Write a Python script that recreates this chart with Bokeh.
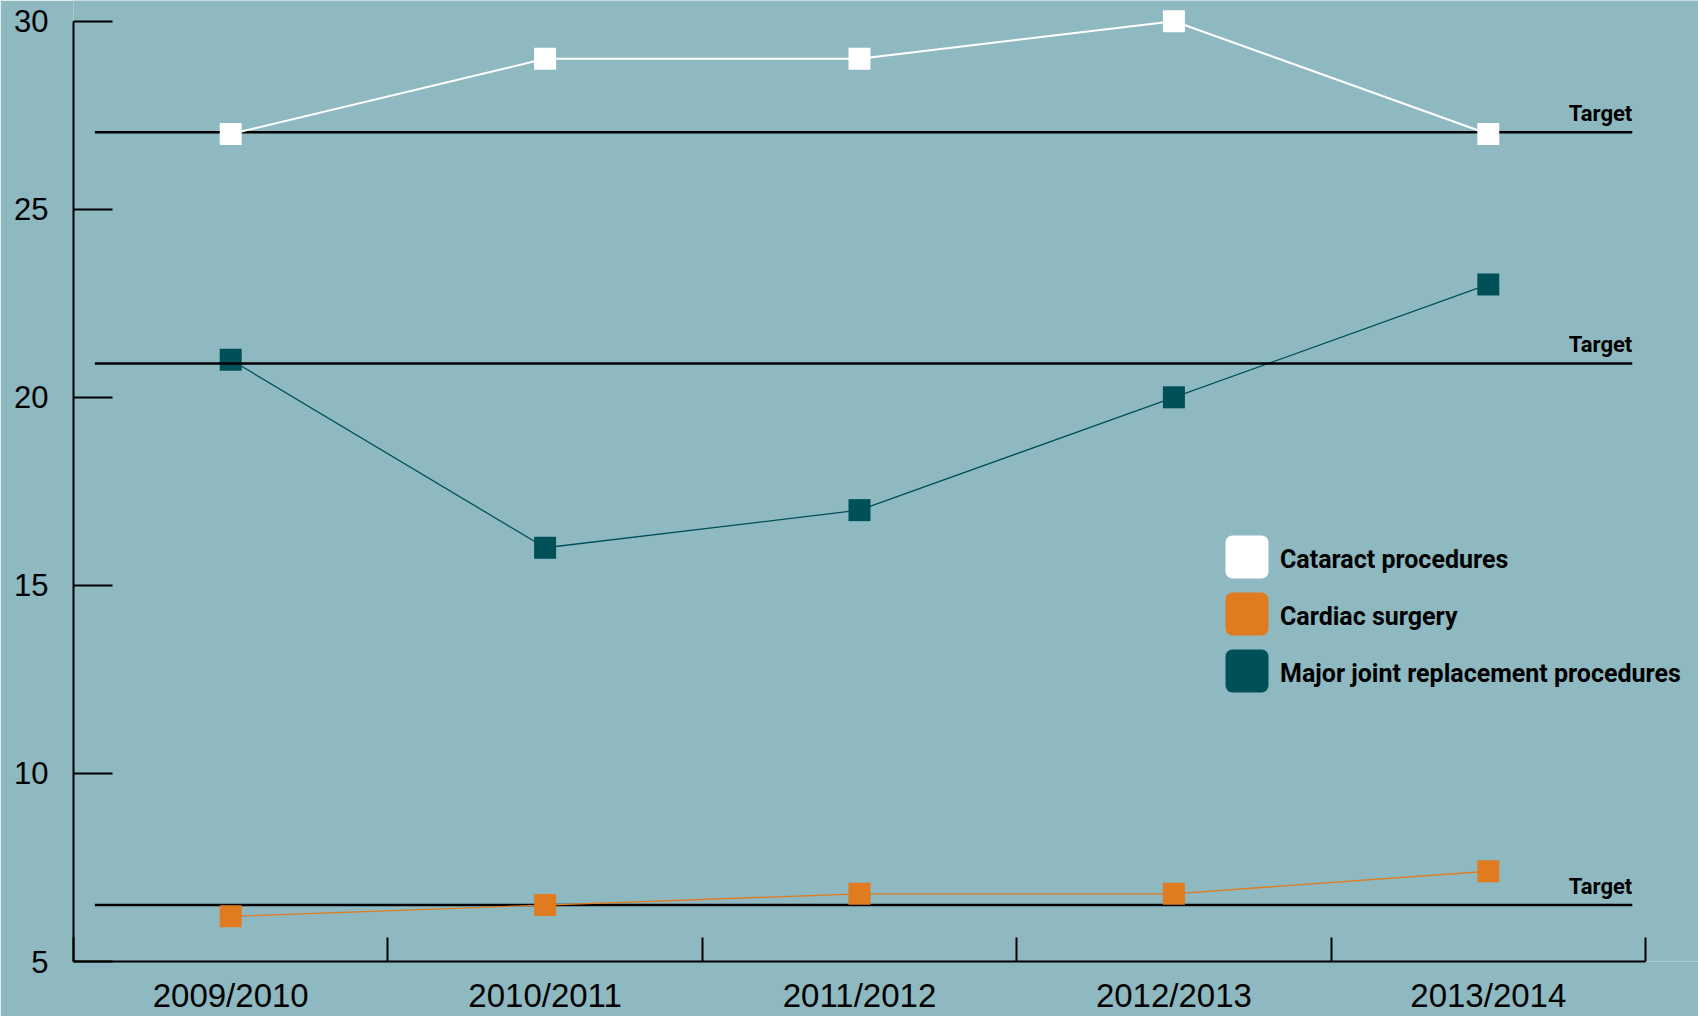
from bokeh.plotting import figure
from bokeh.models import Range1d, FixedTicker, Legend, LegendItem, BoxAnnotation
from bokeh.core.properties import value
from bokeh.embed import file_html
from bokeh.resources import INLINE

# Financial years on the horizontal axis
years = ["2009/2010", "2010/2011", "2011/2012", "2012/2013", "2013/2014"]

# Series values
cataract = [27, 29, 29, 30, 27]
cardiac = [6.2, 6.5, 6.8, 6.8, 7.4]
joint = [21, 16, 17, 20, 23]

# Target levels per procedure
target_cataract = 27.05
target_joint = 20.9
target_cardiac = 6.5

y_ticks = [5, 10, 15, 20, 25, 30]

BG = "#8EB9C0"
WHITE = "#FFFFFF"
ORANGE = "#E07B20"
TEAL = "#00505A"
LABEL_FONT = "Liberation Sans"
BOLD_FONT = "Roboto"

n = len(years)
xs = [i + 0.5 for i in range(n)]

# The plotting area runs to the right edge so the legend is not clipped;
# the x axis itself stops at the last year boundary.
W, H = 1698, 1016
LEFT = 73
AXIS_W = 1572
x_end = n * (W - LEFT) / AXIS_W

p = figure(
    width=W, height=H,
    x_range=Range1d(0, x_end), y_range=Range1d(5, 30.55),
    output_backend="svg", toolbar_location=None,
    min_border_left=LEFT, min_border_right=0, min_border_top=0, min_border_bottom=52,
    background_fill_color=BG, border_fill_color=BG, outline_line_color=None,
)
p.grid.visible = False

# Vertical axis: ticks pointing inward, line ends at the top tick
ya = p.yaxis[0]
ya.ticker = FixedTicker(ticks=y_ticks, minor_ticks=[])
ya.bounds = (5, 30)
ya.axis_line_color = "black"
ya.axis_line_width = 2
ya.major_tick_in = 39
ya.major_tick_out = 0
ya.major_tick_line_width = 2
ya.major_tick_line_color = "black"
ya.minor_tick_line_color = None
ya.major_label_standoff = 25
ya.major_label_text_font = LABEL_FONT
ya.major_label_text_font_size = "31px"
ya.major_label_text_color = "black"

# Horizontal axis: labels at year centres, tick marks at year boundaries
xa = p.xaxis[0]
xa.ticker = FixedTicker(ticks=xs, minor_ticks=list(range(n + 1)))
xa.major_label_overrides = {x: y for x, y in zip(xs, years)}
xa.bounds = (0, n)
xa.axis_line_color = "black"
xa.axis_line_width = 2
xa.major_tick_in = 0
xa.major_tick_out = 0
xa.minor_tick_in = 24
xa.minor_tick_out = 0
xa.minor_tick_line_width = 2
xa.minor_tick_line_color = "black"
xa.major_label_standoff = 15
xa.major_label_text_font = LABEL_FONT
xa.major_label_text_font_size = "33px"
xa.major_label_text_color = "black"

# Major joint replacement series (drawn beneath the target lines)
p.line(xs, joint, line_color=TEAL, line_width=1.3)
p.scatter(xs, joint, marker="square", size=22, fill_color=TEAL, line_color=None)

# Target lines with their labels
targets = [target_cataract, target_joint, target_cardiac]
tx0, tx1 = 0.068, 4.958
p.segment(x0=[tx0] * 3, x1=[tx1] * 3, y0=targets, y1=targets,
          line_color="black", line_width=2.5)
p.text(x=[tx1] * 3, y=targets, text=["Target"] * 3,
       text_align="right", text_baseline="alphabetic", y_offset=-19,
       text_font=value(BOLD_FONT), text_font_style="bold",
       text_font_size="22px", text_color="black")

# Cardiac surgery series
p.line(xs, cardiac, line_color=ORANGE, line_width=1.3)
p.scatter(xs, cardiac, marker="square", size=22, fill_color=ORANGE, line_color=None)

# Cataract series
p.line(xs, cataract, line_color=WHITE, line_width=2)
p.scatter(xs, cataract, marker="square", size=22, fill_color=WHITE, line_color=None)

# Legend: labels from the Legend model, swatches drawn as rounded boxes
legend_labels = ["Cataract procedures", "Cardiac surgery", "Major joint replacement procedures"]
legend_colors = [WHITE, ORANGE, TEAL]

nan = float("nan")
items = []
for label, color in zip(legend_labels, legend_colors):
    r = p.quad(left=[nan], right=[nan], top=[nan], bottom=[nan],
               fill_color=color, fill_alpha=0, line_color=None)
    items.append(LegendItem(label=label, renderers=[r]))

legend = Legend(
    items=items,
    location=(1147, 261),
    glyph_width=54, glyph_height=54, spacing=3, label_standoff=6,
    padding=0, margin=0, border_line_color=None, background_fill_alpha=0,
    label_text_font=BOLD_FONT, label_text_font_style="bold",
    label_text_font_size="25px", label_text_color="black",
)
p.add_layout(legend)

# Rounded swatches, in pixels from the plot area's bottom-left corner
SW_LEFT, SW_SIZE, SW_TOP0, SW_STEP = 1152, 43, 426, 57
for k, color in enumerate(legend_colors):
    top = SW_TOP0 - k * SW_STEP
    p.add_layout(BoxAnnotation(
        left=SW_LEFT, right=SW_LEFT + SW_SIZE, top=top, bottom=top - SW_SIZE,
        left_units="screen", right_units="screen", top_units="screen", bottom_units="screen",
        fill_color=color, fill_alpha=1, line_color=None, border_radius=7,
    ))

open("out.html", "w").write(file_html(p, INLINE))
